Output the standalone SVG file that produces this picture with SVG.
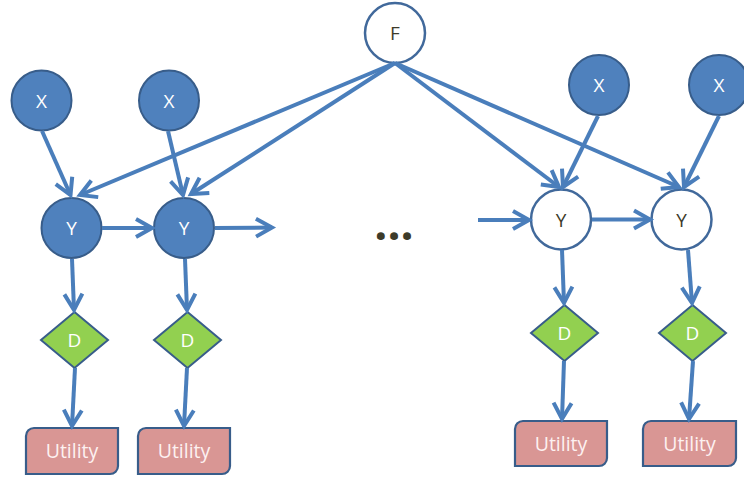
<svg xmlns="http://www.w3.org/2000/svg" width="744" height="478" viewBox="0 0 744 478">
  <style>
    .chance { fill: #4f81bd; stroke: #385d8a; stroke-width: 2; }
    .open { fill: #ffffff; stroke: #41699b; stroke-width: 2.5; }
    .decision { fill: #92d050; stroke: #385d8a; stroke-width: 2; }
    .utility { fill: #d99694; stroke: #385d8a; stroke-width: 2.2; }
    .lbl { font-family: "Open Sans", "Liberation Sans", sans-serif; font-size: 19px; text-anchor: middle; }
    .light { fill: #ffffff; }
    .dark { fill: #3d3b2a; }
    .ulbl { font-family: "Open Sans", "Liberation Sans", sans-serif; font-size: 19.5px; text-anchor: middle; fill: #fdf1f1; }
    .edge { fill: none; stroke: #4a7ebb; stroke-width: 4; marker-end: url(#arr); }
  </style>
  <defs>
    <marker id="arr" markerUnits="userSpaceOnUse" markerWidth="24" markerHeight="24" viewBox="-20 -12 24 24" refX="0" refY="0" orient="auto" overflow="visible">
      <path d="M-16,-9 L0,0 L-16,9" fill="none" stroke="#4a7ebb" stroke-width="4"/>
    </marker>
  </defs>

  <rect width="744" height="478" fill="#ffffff"/>

  <!-- shared factor -->
  <g id="F">
    <circle class="open" cx="395" cy="33" r="30"/>
    <text class="lbl dark" x="395" y="40">F</text>
  </g>

  <!-- observed inputs -->
  <g id="X1">
    <circle class="chance" cx="41.5" cy="100.5" r="30"/>
    <text class="lbl light" x="41.5" y="107.5">X</text>
  </g>
  <g id="X2">
    <circle class="chance" cx="169" cy="100.5" r="30"/>
    <text class="lbl light" x="169" y="107.5">X</text>
  </g>
  <g id="X3">
    <circle class="chance" cx="599" cy="85" r="30"/>
    <text class="lbl light" x="599" y="92">X</text>
  </g>
  <g id="X4">
    <circle class="chance" cx="719" cy="85" r="30"/>
    <text class="lbl light" x="719" y="92">X</text>
  </g>

  <!-- states -->
  <g id="Y1">
    <circle class="chance" cx="71.5" cy="228" r="30"/>
    <text class="lbl light" x="71.5" y="235">Y</text>
  </g>
  <g id="Y2">
    <circle class="chance" cx="184" cy="228" r="30"/>
    <text class="lbl light" x="184" y="235">Y</text>
  </g>
  <g id="Y3">
    <circle class="open" cx="561" cy="219.5" r="30"/>
    <text class="lbl dark" x="561" y="226.5">Y</text>
  </g>
  <g id="Y4">
    <circle class="open" cx="681.5" cy="219.5" r="30"/>
    <text class="lbl dark" x="681.5" y="226.5">Y</text>
  </g>

  <!-- decisions -->
  <g id="D1">
    <polygon class="decision" points="74.5,312 108,340 74.5,368 41,340"/>
    <text class="lbl light" x="74.5" y="347">D</text>
  </g>
  <g id="D2">
    <polygon class="decision" points="187.5,312 221,340 187.5,368 154,340"/>
    <text class="lbl light" x="187.5" y="347">D</text>
  </g>
  <g id="D3">
    <polygon class="decision" points="564.5,305 598,333 564.5,361 531,333"/>
    <text class="lbl light" x="564.5" y="340">D</text>
  </g>
  <g id="D4">
    <polygon class="decision" points="692.5,305 726,333 692.5,361 659,333"/>
    <text class="lbl light" x="692.5" y="340">D</text>
  </g>

  <!-- utilities: rounded top-left and bottom-right corners -->
  <g id="U1">
    <path class="utility" d="M34,428 H118 V466 A8,8 0 0 1 110,474 H26 V436 A8,8 0 0 1 34,428 Z"/>
    <text class="ulbl" x="72" y="458">Utility</text>
  </g>
  <g id="U2">
    <path class="utility" d="M146,428 H230 V466 A8,8 0 0 1 222,474 H138 V436 A8,8 0 0 1 146,428 Z"/>
    <text class="ulbl" x="184" y="458">Utility</text>
  </g>
  <g id="U3">
    <path class="utility" d="M523,421 H607 V458 A8,8 0 0 1 599,466 H515 V429 A8,8 0 0 1 523,421 Z"/>
    <text class="ulbl" x="561" y="450.5">Utility</text>
  </g>
  <g id="U4">
    <path class="utility" d="M651,421 H736 V458 A8,8 0 0 1 728,466 H643 V429 A8,8 0 0 1 651,421 Z"/>
    <text class="ulbl" x="689.5" y="450.5">Utility</text>
  </g>

  <!-- omitted middle steps -->
  <text id="ellipsis" x="394" y="239.5" font-family="'Open Sans', 'Liberation Sans', sans-serif" font-size="46" font-weight="bold" text-anchor="middle" fill="#3d3b2a">...</text>

  <g id="connectors">
    <line class="edge" x1="42" y1="131" x2="70.5" y2="195"/>
    <line class="edge" x1="168" y1="131" x2="183" y2="195"/>
    <line class="edge" x1="395" y1="63" x2="80" y2="195"/>
    <line class="edge" x1="395" y1="63" x2="191" y2="194"/>
    <line class="edge" x1="395" y1="63" x2="559" y2="187"/>
    <line class="edge" x1="395" y1="63" x2="679" y2="187"/>
    <line class="edge" x1="598" y1="116" x2="563" y2="187"/>
    <line class="edge" x1="719" y1="116" x2="684" y2="187"/>

    <line class="edge" x1="102" y1="228" x2="152" y2="228"/>
    <line class="edge" x1="215" y1="228" x2="272" y2="227.5"/>
    <line class="edge" x1="478" y1="220" x2="529" y2="220"/>
    <line class="edge" x1="592" y1="219.5" x2="650" y2="219.5"/>

    <line class="edge" x1="72" y1="259" x2="74" y2="310"/>
    <line class="edge" x1="185" y1="259" x2="187" y2="310"/>
    <line class="edge" x1="562" y1="250" x2="564" y2="303"/>
    <line class="edge" x1="688" y1="250" x2="692" y2="303"/>

    <line class="edge" x1="75" y1="368" x2="72" y2="426"/>
    <line class="edge" x1="187" y1="368" x2="184" y2="426"/>
    <line class="edge" x1="564" y1="361" x2="562" y2="419"/>
    <line class="edge" x1="693" y1="361" x2="689" y2="419"/>
  </g>
</svg>
